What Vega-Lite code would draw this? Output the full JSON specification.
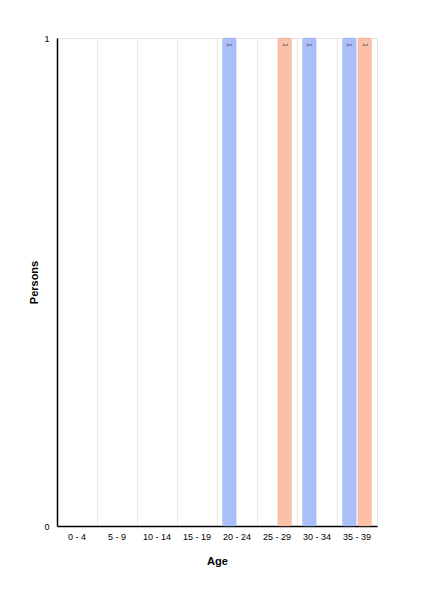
{
  "$schema": "https://vega.github.io/schema/vega-lite/v6.json",
  "width": 320,
  "height": 488,
  "autosize": {"type": "none"},
  "padding": {"left": 57, "top": 38, "right": 68, "bottom": 75},
  "background": "white",
  "config": {
    "view": {"stroke": "#e6e6e6", "strokeWidth": 1},
    "font": "Liberation Sans",
    "axis": {"labelFont": "Liberation Sans", "titleFont": "Liberation Sans"}
  },
  "data": {
    "values": [
      {"age": "0 - 4", "sex": "Male", "persons": 0},
      {"age": "0 - 4", "sex": "Female", "persons": 0},
      {"age": "5 - 9", "sex": "Male", "persons": 0},
      {"age": "5 - 9", "sex": "Female", "persons": 0},
      {"age": "10 - 14", "sex": "Male", "persons": 0},
      {"age": "10 - 14", "sex": "Female", "persons": 0},
      {"age": "15 - 19", "sex": "Male", "persons": 0},
      {"age": "15 - 19", "sex": "Female", "persons": 0},
      {"age": "20 - 24", "sex": "Male", "persons": 1},
      {"age": "20 - 24", "sex": "Female", "persons": 0},
      {"age": "25 - 29", "sex": "Male", "persons": 0},
      {"age": "25 - 29", "sex": "Female", "persons": 1},
      {"age": "30 - 34", "sex": "Male", "persons": 1},
      {"age": "30 - 34", "sex": "Female", "persons": 0},
      {"age": "35 - 39", "sex": "Male", "persons": 1},
      {"age": "35 - 39", "sex": "Female", "persons": 1}
    ]
  },
  "encoding": {
    "x": {
      "field": "age", "type": "nominal", "sort": null,
      "scale": {
        "domain": ["0 - 4", "5 - 9", "10 - 14", "15 - 19", "20 - 24", "25 - 29", "30 - 34", "35 - 39"],
        "paddingInner": 0, "paddingOuter": 0
      },
      "axis": {
        "title": "Age", "titleFontSize": 11, "titleFontWeight": "bold", "titleColor": "#000", "titlePadding": 14,
        "labelAngle": 0, "labelFontSize": 9, "labelColor": "#000", "labelPadding": 6,
        "ticks": false, "domainColor": "#000", "domainWidth": 1.5,
        "grid": true, "gridColor": "#e8e8e8", "bandPosition": 0
      }
    },
    "xOffset": {
      "field": "sex", "type": "nominal", "sort": ["Male", "Female"],
      "scale": {"domain": ["Male", "Female"], "paddingInner": 0.1, "paddingOuter": 0.35}
    },
    "y": {
      "field": "persons", "type": "quantitative",
      "scale": {"domain": [0, 1], "nice": false},
      "axis": {
        "title": "Persons", "titleFontSize": 11, "titleFontWeight": "bold", "titleColor": "#000", "titlePadding": 4,
        "values": [0, 1], "format": "d", "labelFontSize": 9, "labelColor": "#000", "labelPadding": 8,
        "ticks": false, "domainColor": "#000", "domainWidth": 1.5, "grid": false
      }
    }
  },
  "layer": [
    {
      "transform": [{"filter": "datum.persons > 0"}],
      "mark": {"type": "bar", "cornerRadius": 2, "strokeWidth": 0.6, "strokeOpacity": 0.6},
      "encoding": {
        "color": {
          "field": "sex", "type": "nominal",
          "scale": {"domain": ["Male", "Female"], "range": ["#aabffa", "#fcc0a9"]},
          "legend": null
        },
        "stroke": {
          "field": "sex", "type": "nominal",
          "scale": {"domain": ["Male", "Female"], "range": ["#8fa6e6", "#e8a58c"]},
          "legend": null
        }
      }
    },
    {
      "transform": [{"filter": "datum.persons > 0"}],
      "mark": {"type": "text", "fontSize": 7, "angle": 90, "dy": 0, "dx": 7, "color": "#556", "align": "center", "baseline": "middle"},
      "encoding": {"text": {"field": "persons", "type": "quantitative"}}
    }
  ]
}
